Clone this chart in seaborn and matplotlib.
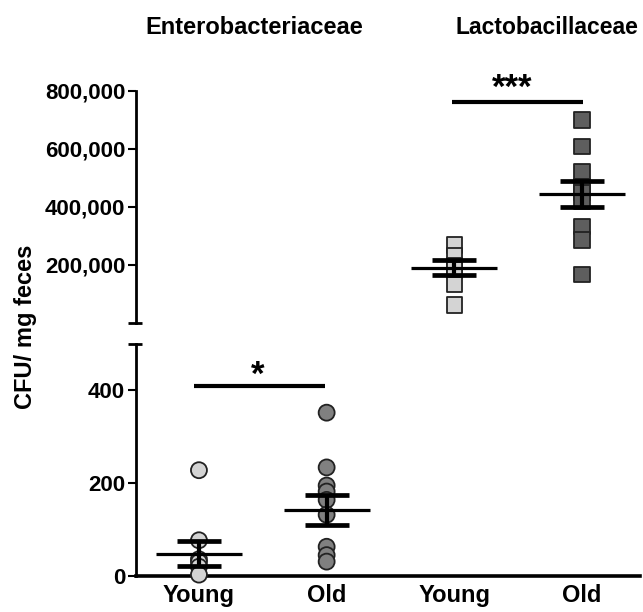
import matplotlib
matplotlib.use("Agg")
import matplotlib.pyplot as plt
import matplotlib.ticker as mticker
import numpy as np
import pandas as pd
import seaborn as sns

sns.set_theme(style="white")
plt.rcParams["font.family"] = ["Liberation Sans", "DejaVu Sans"]
plt.rcParams["font.weight"] = "bold"
for key in ("text.color", "axes.labelcolor", "xtick.color", "ytick.color",
            "axes.edgecolor"):
    plt.rcParams[key] = "black"

# Group labels on the shared x axis
groups = ["Young", "Old", "Young", "Old"]
group_keys = ["ent_young", "ent_old", "lac_young", "lac_old"]

# CFU per mg feces, one value per animal
entero_young = [228, 77, 36, 30, 20, 3]
entero_old = [352, 234, 195, 182, 164, 132, 63, 45, 31]
lacto_young = [269000, 231000, 197000, 183000, 134000, 62000]
lacto_old = [700000, 608000, 522000, 470000, 450000, 418000, 332000, 286000, 168000]

# Group mean and SEM
group_means = [48, 142, 191000, 445000]
group_sems = [27, 32, 25500, 45000]

# Significance brackets
sig_labels = ["*", "***"]
sig_heights = [410, 762000]

light = "#d4d4d4"
mid = "#808080"
dark = "#5e5e5e"

fig = plt.figure(figsize=(6.43, 6.12), dpi=100)
W, H = 643, 612
left, right = 136 / W, 640 / W
ax_top = fig.add_axes([left, 1 - 323 / H, right - left, (323 - 91) / H])
ax_bot = fig.add_axes([left, 1 - 576 / H, right - left, (576 - 344) / H])

ent = pd.DataFrame({
    "group": ["ent_young"] * len(entero_young) + ["ent_old"] * len(entero_old),
    "cfu": entero_young + entero_old,
})
lac = pd.DataFrame({
    "group": ["lac_young"] * len(lacto_young) + ["lac_old"] * len(lacto_old),
    "cfu": lacto_young + lacto_old,
})

sns.stripplot(data=ent, x="group", y="cfu", hue="group", order=group_keys,
              palette={"ent_young": light, "ent_old": mid}, jitter=False,
              marker="o", s=11.5, linewidth=1.3, edgecolor="#222222",
              legend=False, ax=ax_bot, zorder=3)
sns.stripplot(data=lac, x="group", y="cfu", hue="group", order=group_keys,
              palette={"lac_young": light, "lac_old": dark}, jitter=False,
              marker="s", s=11, linewidth=1.3, edgecolor="#222222",
              legend=False, ax=ax_top, zorder=3)

# let the circles at zero sit on top of the x axis line
for c in ax_bot.collections:
    if len(c.get_offsets()) > 0:
        c.set_clip_on(False)

for ax, idx in ((ax_bot, [0, 1]), (ax_top, [2, 3])):
    for i in idx:
        ax.hlines(group_means[i], i - 0.336, i + 0.336, color="black",
                  lw=2.3, zorder=5)
        ax.errorbar(i, group_means[i], yerr=group_sems[i], fmt="none",
                    ecolor="black", elinewidth=3.0, capsize=15.6,
                    capthick=3.4, zorder=5)

xlim = (-0.493, 3.454)
for ax in (ax_top, ax_bot):
    ax.set_xlim(*xlim)
    ax.set_xlabel("")
    ax.set_ylabel("")
    for s in ("top", "right"):
        ax.spines[s].set_visible(False)
    ax.spines["left"].set_linewidth(2.0)
    ax.spines["left"].set_color("black")
    ax.tick_params(axis="y", which="major", direction="out", length=5.8,
                   width=1.5, color="black", labelcolor="black", pad=2,
                   labelsize=16, left=True)

# upper panel: Lactobacillaceae scale
ax_top.set_ylim(0, 800000)
ax_top.set_yticks([200000, 400000, 600000, 800000])
ax_top.yaxis.set_major_formatter(mticker.StrMethodFormatter("{x:,.0f}"))
ax_top.spines["bottom"].set_visible(False)
ax_top.set_xticks([])

# lower panel: Enterobacteriaceae scale
ax_bot.set_ylim(0, 500)
ax_bot.set_yticks([0, 200, 400])
ax_bot.spines["bottom"].set_linewidth(2.6)
ax_bot.spines["bottom"].set_color("black")
ax_bot.set_xticks(range(4))
ax_bot.set_xticklabels(groups, fontsize=17, fontweight="bold", color="black")
ax_bot.tick_params(axis="x", length=0, pad=6)

for ax in (ax_top, ax_bot):
    for t in ax.get_yticklabels():
        t.set_fontweight("bold")

# axis-break caps
ax_top.plot([-0.016, 0.012], [0, 0], transform=ax_top.transAxes,
            color="black", lw=2.0, clip_on=False, solid_capstyle="butt")
ax_bot.plot([-0.016, 0.012], [1, 1], transform=ax_bot.transAxes,
            color="black", lw=2.0, clip_on=False, solid_capstyle="butt")

# significance bars
ax_bot.plot([-0.04, 0.99], [sig_heights[0]] * 2, color="black", lw=3.0,
            solid_capstyle="butt", clip_on=False)
ax_bot.text(0.46, sig_heights[0] - 14, sig_labels[0], ha="center",
            va="bottom", fontsize=25, fontweight="bold")
ax_top.plot([1.98, 3.01], [sig_heights[1]] * 2, color="black", lw=3.0,
            solid_capstyle="butt", clip_on=False)
ax_top.text(2.45, sig_heights[1] - 9000, sig_labels[1], ha="center",
            va="bottom", fontsize=25, fontweight="bold")

fig.text(254 / W, 1 - 27 / H, "Enterobacteriaceae", ha="center",
         va="center", fontsize=17, fontweight="bold")
fig.text(547 / W, 1 - 27 / H, "Lactobacillaceae", ha="center",
         va="center", fontsize=16.5, fontweight="bold")
fig.text(26 / W, 1 - 327 / H, "CFU/ mg feces", ha="center", va="center",
         rotation=90, fontsize=17, fontweight="bold")

fig.savefig("out.png", dpi=100)
